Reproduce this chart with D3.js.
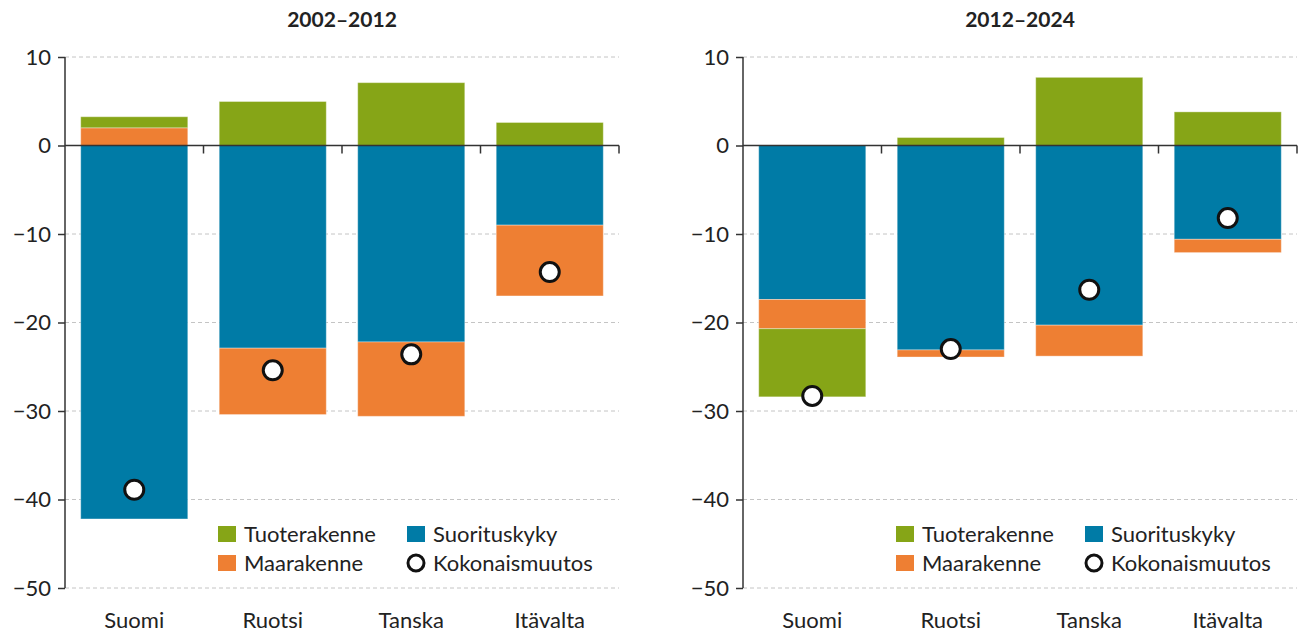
<!DOCTYPE html>
<html>
<head>
<meta charset="utf-8">
<script src="https://cdn.jsdelivr.net/npm/d3@7"></script>
<style>
  body { margin: 0; background: #fff; }
  svg { display: block; font-family: Lato, "Open Sans", sans-serif; }
</style>
</head>
<body>
<svg id="chart" width="1299" height="633"></svg>
<script>
// data
const countries = ['Suomi', 'Ruotsi', 'Tanska', 'Itävalta'];
const periods = ['2002–2012', '2012–2024'];
const seriesKeys = ['Suorituskyky', 'Maarakenne', 'Tuoterakenne'];
const yTicks = [10, 0, -10, -20, -30, -40, -50];

const suoritus = [[-42.2, -22.9, -22.2, -9.0], [-17.4, -23.1, -20.3, -10.6]];
const maara = [[2.0, -7.5, -8.4, -8.0], [-3.3, -0.8, -3.5, -1.5]];
const tuote = [[1.25, 4.97, 7.1, 2.6], [-7.7, 0.9, 7.7, 3.8]];
const kokonais = [[-38.9, -25.4, -23.6, -14.3], [-28.3, -23.0, -16.3, -8.2]];

const colors = { Tuoterakenne: '#86a517', Suorituskyky: '#007ba6', Maarakenne: '#ee7f33' };

const svg = d3.select('#chart');
const panels = [{ x0: 65, x1: 619 }, { x0: 743, x1: 1297 }];
const fs = 22;

const y = d3.scaleLinear().domain([-50, 10]).range([588, 57]);

panels.forEach((p, pi) => {
  const g = svg.append('g');
  const x = d3.scaleBand().domain(countries).range([p.x0, p.x1]).padding(0);
  const barW = x.bandwidth() * 0.773;

  const rows = countries.map((c, i) => ({
    country: c,
    Suorituskyky: suoritus[pi][i],
    Maarakenne: maara[pi][i],
    Tuoterakenne: tuote[pi][i],
    total: kokonais[pi][i]
  }));
  const stacked = d3.stack().keys(seriesKeys).offset(d3.stackOffsetDiverging)(rows);

  // title
  g.append('text')
    .attr('x', (p.x0 + p.x1) / 2).attr('y', 27)
    .attr('text-anchor', 'middle')
    .attr('font-size', 21).attr('font-weight', 'bold').attr('fill', '#222')
    .text(periods[pi]);

  // grid
  g.selectAll('.grid').data(yTicks.filter(t => t !== 0)).enter().append('line')
    .attr('x1', p.x0).attr('x2', p.x1)
    .attr('y1', d => y(d)).attr('y2', d => y(d))
    .attr('stroke', '#c4c4c4').attr('stroke-width', 1).attr('stroke-dasharray', '4,3');

  // bars
  g.selectAll('.layer').data(stacked).enter().append('g')
    .attr('fill', d => colors[d.key])
    .selectAll('rect').data(d => d).enter().append('rect')
    .attr('x', d => x(d.data.country) + (x.bandwidth() - barW) / 2)
    .attr('width', barW)
    .attr('y', d => y(Math.max(d[0], d[1])))
    .attr('height', d => Math.abs(y(d[0]) - y(d[1])))
    .attr('stroke', '#fff').attr('stroke-opacity', 0.35).attr('stroke-width', 1);

  // y axis
  const yAxis = d3.axisLeft(y).tickValues(yTicks).tickSize(7).tickPadding(7);
  const ya = g.append('g').attr('transform', `translate(${p.x0},0)`).call(yAxis);
  ya.select('.domain').attr('stroke', '#333').attr('stroke-width', 1.5).attr('d', `M0,${y(10)}V${y(-50)}`);
  ya.selectAll('.tick line').attr('stroke', '#333').attr('stroke-width', 1.5);
  ya.selectAll('.tick text').attr('font-size', fs).attr('fill', '#222').attr('font-family', 'Lato, sans-serif');

  // zero line with category separators
  const zx = g.append('g').attr('transform', `translate(0,${y(0)})`);
  zx.append('line').attr('x1', p.x0).attr('x2', p.x1).attr('stroke', '#333').attr('stroke-width', 1.5);
  zx.selectAll('.sep').data(countries).enter().append('line')
    .attr('x1', d => x(d) + x.bandwidth()).attr('x2', d => x(d) + x.bandwidth())
    .attr('y1', 0).attr('y2', 8)
    .attr('stroke', '#333').attr('stroke-width', 1.5);

  // category labels
  g.selectAll('.cat').data(countries).enter().append('text')
    .attr('x', d => x(d) + x.bandwidth() / 2).attr('y', 628)
    .attr('text-anchor', 'middle').attr('font-size', fs).attr('fill', '#222')
    .text(d => d);

  // total markers
  g.selectAll('.dot').data(rows).enter().append('circle')
    .attr('cx', d => x(d.country) + x.bandwidth() / 2)
    .attr('cy', d => y(d.total))
    .attr('r', 9.5)
    .attr('fill', '#fff').attr('stroke', '#111').attr('stroke-width', 3);

  // legend
  const legendItems = [
    { label: 'Tuoterakenne', type: 'rect', color: colors.Tuoterakenne, dx: 153, row: 0 },
    { label: 'Suorituskyky', type: 'rect', color: colors.Suorituskyky, dx: 342, row: 0 },
    { label: 'Maarakenne', type: 'rect', color: colors.Maarakenne, dx: 153, row: 1 },
    { label: 'Kokonaismuutos', type: 'circle', dx: 342, row: 1 }
  ];
  const lg = g.selectAll('.leg').data(legendItems).enter().append('g')
    .attr('transform', d => `translate(${p.x0 + d.dx},${534 + d.row * 29})`);
  lg.filter(d => d.type === 'rect').append('rect')
    .attr('x', 0).attr('y', -8).attr('width', 18).attr('height', 16)
    .attr('fill', d => d.color);
  lg.filter(d => d.type === 'circle').append('circle')
    .attr('cx', 9).attr('cy', 0).attr('r', 8)
    .attr('fill', '#fff').attr('stroke', '#111').attr('stroke-width', 3);
  lg.append('text')
    .attr('x', 26).attr('y', 8)
    .attr('font-size', fs).attr('fill', '#222')
    .text(d => d.label);
});
</script>
</body>
</html>
